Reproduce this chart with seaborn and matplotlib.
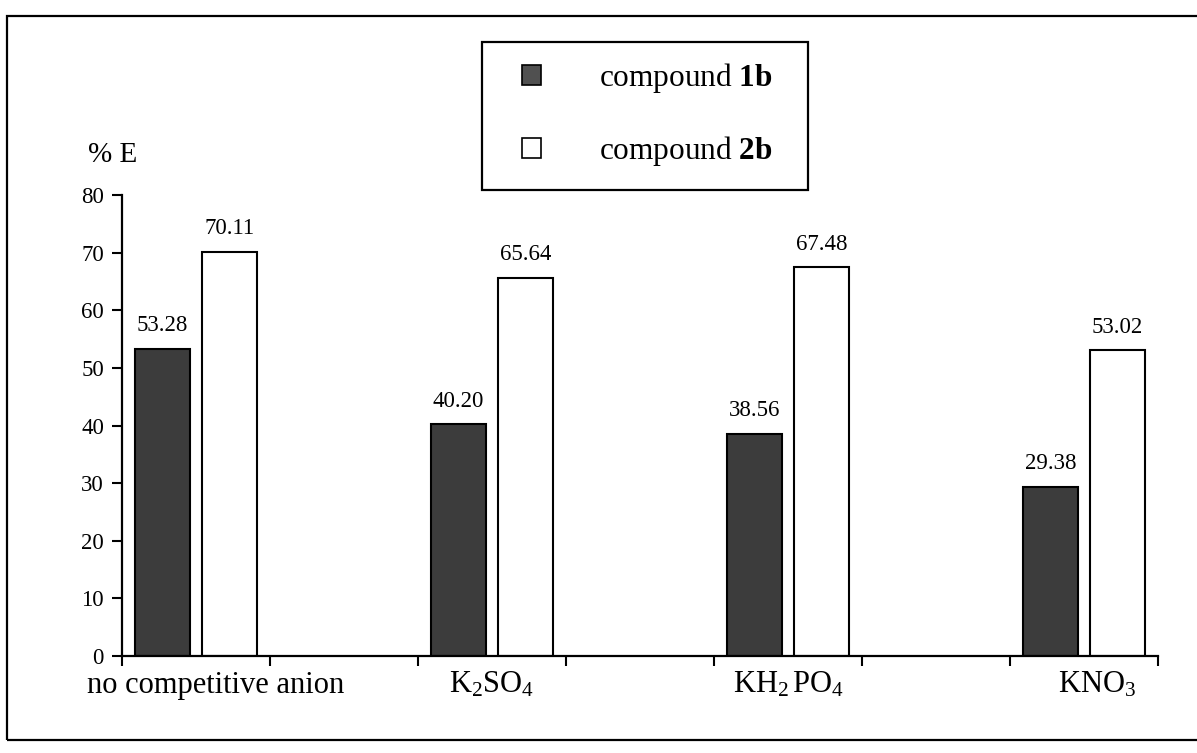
import matplotlib
matplotlib.use("Agg")
import matplotlib.pyplot as plt
from matplotlib.patches import Patch, Rectangle
from matplotlib.transforms import blended_transform_factory
import seaborn as sns
import pandas as pd

# ---- data ----
categories = ["no competitive anion", "K2SO4", "KH2PO4", "KNO3"]
category_labels = [r"no competitive anion", r"$\mathrm{K_2SO_4}$",
                   r"$\mathrm{KH_2\,PO_4}$", r"$\mathrm{KNO_3}$"]
compounds = ["compound 1b", "compound 2b"]
legend_labels = [r"compound $\mathbf{1b}$", r"compound $\mathbf{2b}$"]
values_1b = [53.28, 40.20, 38.56, 29.38]
values_2b = [70.11, 65.64, 67.48, 53.02]
yticks = [0, 10, 20, 30, 40, 50, 60, 70, 80]

df = pd.DataFrame({
    "anion": categories * 2,
    "compound": [compounds[0]] * 4 + [compounds[1]] * 4,
    "E": values_1b + values_2b,
})

# empty category slots between the groups (as in the original chart)
order = [categories[0], " ", categories[1], "  ", categories[2], "   ", categories[3]]
label_shift = [0.13, 0.0, 0.0, 0.09]   # small horizontal nudges of the labels

sns.set_style("ticks")
plt.rcParams["font.family"] = ["Liberation Serif", "DejaVu Serif"]
plt.rcParams["mathtext.fontset"] = "custom"
plt.rcParams["mathtext.rm"] = "Liberation Serif"
plt.rcParams["mathtext.it"] = "Liberation Serif:italic"
plt.rcParams["mathtext.bf"] = "Liberation Serif:bold"
plt.rcParams["text.color"] = "black"
plt.rcParams["axes.edgecolor"] = "black"
plt.rcParams["xtick.color"] = "black"
plt.rcParams["ytick.color"] = "black"

dark = "#3c3c3c"
palette = {compounds[0]: dark, compounds[1]: "white"}

fig = plt.figure(figsize=(11.97, 7.53), dpi=100)
fig.patch.set_facecolor("white")
ax = fig.add_axes([122 / 1197, 97 / 753, (1158 - 122) / 1197, (656 - 195) / 753])

sns.barplot(data=df, x="anion", y="E", hue="compound", order=order,
            hue_order=compounds, palette=palette, edgecolor="black",
            linewidth=1.5, width=0.91, gap=0.185, legend=False, ax=ax,
            errorbar=None)

ax.set_xlim(-0.5, len(order) - 0.5)
ax.set_ylim(0, 80)
ax.set_yticks(yticks)
ax.set_yticklabels([str(v) for v in yticks], fontsize=16.5)
ax.set_xticks([i - 0.5 for i in range(len(order) + 1)])
ax.set_xticklabels([])
ax.tick_params(axis="both", direction="out", length=7, width=1.5, pad=6)
ax.set_xlabel("")
ax.set_ylabel("")
for s in ["top", "right"]:
    ax.spines[s].set_visible(False)
for s in ["left", "bottom"]:
    ax.spines[s].set_linewidth(1.6)
ax.set_facecolor("none")

# value labels
for cont in ax.containers:
    ax.bar_label(cont, fmt="%.2f", padding=9, fontsize=16.5)

# category labels under the axis
trans = blended_transform_factory(ax.transData, ax.transAxes)
for cat, lab, sh in zip(categories, category_labels, label_shift):
    ax.text(order.index(cat) + sh, -0.063, lab, transform=trans, ha="center",
            va="center", fontsize=22)

# y label
fig.text(88 / 1197, 1 - 155 / 753, "% E", ha="left", va="center", fontsize=21)

# legend (entries) and its box
handles = [Patch(facecolor="#505050", edgecolor="black", linewidth=1.2),
           Patch(facecolor="white", edgecolor="black", linewidth=1.2)]
leg = ax.legend(handles, legend_labels, loc="upper left",
                bbox_to_anchor=(522 / 1197, 1 - 61 / 753),
                bbox_transform=fig.transFigure, fontsize=22.5, frameon=False,
                borderpad=0, labelspacing=1.25, handlelength=0.6,
                handleheight=0.6, handletextpad=1.87, borderaxespad=0)
fig.patches.append(Rectangle((482 / 1197, 1 - 190 / 753), (808 - 482) / 1197,
                             (190 - 42) / 753, transform=fig.transFigure,
                             fill=False, linewidth=1.6, edgecolor="black"))

# outer frame
fig.patches.append(Rectangle((7 / 1197, 13 / 753), 1.05, (740 - 16) / 753,
                             transform=fig.transFigure, fill=False,
                             linewidth=1.6, edgecolor="black"))

fig.savefig("out.png", dpi=100, facecolor="white")
